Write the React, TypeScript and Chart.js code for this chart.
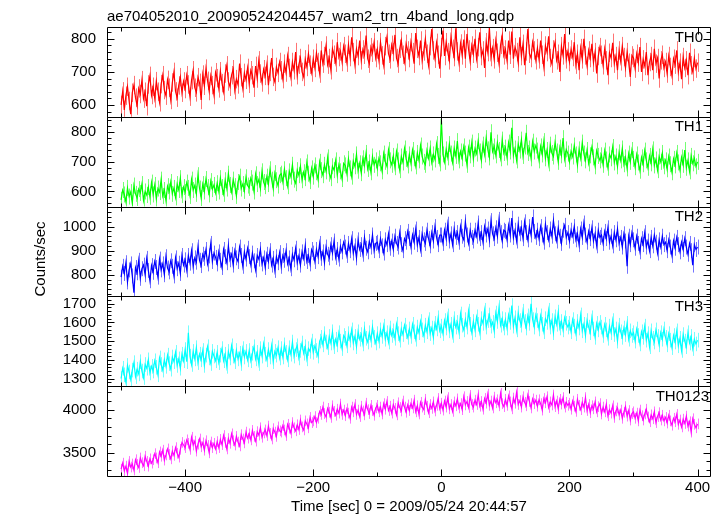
import React, { useEffect, useRef } from "react";
import { Chart, registerables } from "chart.js";

Chart.register(...registerables);

// ---------- data ----------
const TIME = [
  -500, -497.5, -495, -492.5, -490, -487.5, -485, -482.5, -480, -477.5, -475, -472.5, -470, -467.5, -465, -462.5, -460, -457.5, -455, -452.5,
  -450, -447.5, -445, -442.5, -440, -437.5, -435, -432.5, -430, -427.5, -425, -422.5, -420, -417.5, -415, -412.5, -410, -407.5, -405, -402.5,
  -400, -397.5, -395, -392.5, -390, -387.5, -385, -382.5, -380, -377.5, -375, -372.5, -370, -367.5, -365, -362.5, -360, -357.5, -355, -352.5,
  -350, -347.5, -345, -342.5, -340, -337.5, -335, -332.5, -330, -327.5, -325, -322.5, -320, -317.5, -315, -312.5, -310, -307.5, -305, -302.5,
  -300, -297.5, -295, -292.5, -290, -287.5, -285, -282.5, -280, -277.5, -275, -272.5, -270, -267.5, -265, -262.5, -260, -257.5, -255, -252.5,
  -250, -247.5, -245, -242.5, -240, -237.5, -235, -232.5, -230, -227.5, -225, -222.5, -220, -217.5, -215, -212.5, -210, -207.5, -205, -202.5,
  -200, -197.5, -195, -192.5, -190, -187.5, -185, -182.5, -180, -177.5, -175, -172.5, -170, -167.5, -165, -162.5, -160, -157.5, -155, -152.5,
  -150, -147.5, -145, -142.5, -140, -137.5, -135, -132.5, -130, -127.5, -125, -122.5, -120, -117.5, -115, -112.5, -110, -107.5, -105, -102.5,
  -100, -97.5, -95, -92.5, -90, -87.5, -85, -82.5, -80, -77.5, -75, -72.5, -70, -67.5, -65, -62.5, -60, -57.5, -55, -52.5,
  -50, -47.5, -45, -42.5, -40, -37.5, -35, -32.5, -30, -27.5, -25, -22.5, -20, -17.5, -15, -12.5, -10, -7.5, -5, -2.5,
  0, 2.5, 5, 7.5, 10, 12.5, 15, 17.5, 20, 22.5, 25, 27.5, 30, 32.5, 35, 37.5, 40, 42.5, 45, 47.5,
  50, 52.5, 55, 57.5, 60, 62.5, 65, 67.5, 70, 72.5, 75, 77.5, 80, 82.5, 85, 87.5, 90, 92.5, 95, 97.5,
  100, 102.5, 105, 107.5, 110, 112.5, 115, 117.5, 120, 122.5, 125, 127.5, 130, 132.5, 135, 137.5, 140, 142.5, 145, 147.5,
  150, 152.5, 155, 157.5, 160, 162.5, 165, 167.5, 170, 172.5, 175, 177.5, 180, 182.5, 185, 187.5, 190, 192.5, 195, 197.5,
  200, 202.5, 205, 207.5, 210, 212.5, 215, 217.5, 220, 222.5, 225, 227.5, 230, 232.5, 235, 237.5, 240, 242.5, 245, 247.5,
  250, 252.5, 255, 257.5, 260, 262.5, 265, 267.5, 270, 272.5, 275, 277.5, 280, 282.5, 285, 287.5, 290, 292.5, 295, 297.5,
  300, 302.5, 305, 307.5, 310, 312.5, 315, 317.5, 320, 322.5, 325, 327.5, 330, 332.5, 335, 337.5, 340, 342.5, 345, 347.5,
  350, 352.5, 355, 357.5, 360, 362.5, 365, 367.5, 370, 372.5, 375, 377.5, 380, 382.5, 385, 387.5, 390, 392.5, 395, 397.5,
  400,
];

const TH0 = [
  600, 641, 585, 628, 655, 612, 572, 637, 660, 622, 598, 650, 633, 675, 619, 640, 596, 662, 688, 630,
  655, 620, 672, 640, 608, 663, 690, 645, 628, 676, 652, 615, 668, 700, 641, 622, 659, 684, 637, 671,
  648, 690, 662, 625, 675, 705, 652, 638, 684, 667, 615, 692, 658, 710, 673, 642, 688, 660, 630, 699,
  681, 650, 702, 666, 640, 695, 720, 671, 655, 690, 708, 645, 678, 662, 725, 684, 650, 697, 676, 712,
  664, 705, 690, 652, 718, 680, 735, 695, 668, 708, 688, 722, 660, 700, 742, 685, 670, 715, 697, 730,
  705, 678, 725, 698, 748, 712, 684, 730, 705, 760, 690, 722, 742, 700, 685, 738, 715, 755, 722, 698,
  740, 712, 758, 730, 695, 765, 725, 748, 780, 722, 742, 705, 770, 752, 728, 790, 745, 762, 730, 778,
  755, 728, 782, 745, 805, 760, 722, 770, 748, 795, 735, 768, 752, 810, 740, 725, 775, 758, 790, 742,
  768, 735, 790, 750, 720, 778, 805, 755, 738, 782, 760, 812, 742, 725, 770, 795, 752, 730, 785, 765,
  742, 790, 760, 725, 818, 770, 748, 795, 735, 762, 800, 755, 720, 778, 830, 765, 740, 788, 752, 710,
  775, 825, 748, 790, 760, 735, 805, 770, 745, 832, 762, 728, 786, 750, 798, 740, 815, 768, 732, 780,
  755, 800, 740, 775, 820, 748, 765, 712, 790, 760, 834, 745, 772, 738, 795, 758, 725, 782, 810, 750,
  768, 735, 795, 752, 822, 740, 775, 760, 728, 805, 748, 785, 720, 762, 830, 755, 742, 790, 765, 735,
  772, 738, 795, 752, 715, 780, 760, 808, 742, 725, 768, 790, 735, 755, 700, 778, 750, 815, 738, 762,
  730, 768, 745, 790, 722, 755, 705, 772, 738, 800, 750, 718, 765, 742, 785, 728, 760, 695, 748, 775,
  752, 720, 770, 735, 690, 758, 742, 788, 725, 748, 705, 765, 732, 778, 745, 712, 760, 728, 685, 750,
  742, 710, 755, 728, 775, 700, 738, 718, 760, 690, 730, 748, 705, 770, 725, 742, 680, 735, 752, 712,
  730, 695, 748, 715, 688, 740, 722, 765, 700, 728, 678, 745, 712, 735, 690, 758, 720, 700, 742, 710,
  728,
];

const TH1 = [
  572, 605, 590, 565, 612, 583, 598, 560, 620, 592, 578, 608, 595, 625, 570, 600, 588, 615, 582, 630,
  590, 622, 575, 610, 598, 640, 585, 605, 570, 618, 600, 632, 592, 612, 580, 625, 605, 645, 588, 615,
  598, 630, 612, 585, 640, 605, 620, 592, 655, 610, 578, 625, 600, 642, 615, 590, 635, 608, 622, 595,
  628, 600, 645, 615, 592, 638, 610, 660, 622, 598, 640, 618, 585, 632, 650, 610, 625, 602, 648, 620,
  612, 645, 630, 600, 658, 625, 640, 610, 668, 632, 618, 650, 625, 675, 640, 610, 662, 638, 620, 655,
  660, 632, 675, 645, 618, 668, 650, 690, 640, 628, 672, 655, 685, 638, 665, 645, 698, 660, 635, 678,
  650, 688, 665, 640, 700, 672, 655, 690, 668, 715, 660, 645, 685, 672, 705, 655, 690, 668, 642, 695,
  688, 660, 710, 678, 650, 702, 685, 725, 670, 695, 662, 712, 688, 730, 676, 698, 665, 718, 690, 705,
  678, 712, 695, 668, 728, 700, 685, 740, 705, 690, 720, 682, 735, 705, 672, 718, 698, 745, 710, 688,
  725, 695, 740, 712, 685, 730, 705, 755, 718, 700, 690, 738, 712, 745, 698, 725, 708, 760, 720, 695,
  845, 725, 700, 742, 715, 760, 728, 698, 745, 720, 770, 705, 735, 712, 752, 728, 690, 748, 722, 765,
  710, 745, 728, 770, 735, 705, 758, 725, 780, 742, 715, 800, 735, 752, 722, 765, 740, 712, 775, 730,
  748, 715, 765, 735, 815, 722, 745, 705, 760, 738, 775, 720, 752, 798, 730, 745, 712, 768, 735, 755,
  738, 705, 752, 725, 770, 712, 740, 695, 758, 730, 718, 765, 735, 700, 748, 722, 780, 710, 742, 728,
  700, 735, 718, 755, 725, 690, 742, 712, 765, 728, 705, 740, 695, 722, 750, 715, 685, 738, 720, 705,
  722, 690, 738, 708, 680, 725, 712, 750, 698, 718, 685, 732, 705, 745, 692, 715, 678, 728, 700, 740,
  710, 682, 725, 698, 670, 715, 692, 738, 705, 680, 720, 695, 742, 688, 708, 672, 718, 700, 730, 685,
  705, 675, 718, 692, 665, 710, 688, 730, 698, 672, 715, 690, 740, 680, 705, 668, 720, 695, 712, 685,
  700,
];

const TH2 = [
  790, 835, 805, 850, 770, 820, 845, 795, 725, 830, 808, 860, 785, 825, 840, 800, 868, 818, 775, 838,
  810, 855, 830, 790, 865, 820, 845, 800, 875, 828, 812, 858, 835, 795, 870, 825, 848, 805, 880, 840,
  862, 820, 880, 848, 900, 835, 870, 852, 915, 860, 838, 885, 868, 905, 845, 878, 930, 855, 890, 872,
  845, 895, 860, 830, 905, 875, 850, 920, 862, 885, 840, 900, 870, 855, 915, 880, 835, 895, 865, 910,
  875, 840, 890, 858, 820, 880, 865, 905, 845, 870, 830, 885, 855, 900, 840, 868, 818, 875, 850, 892,
  835, 880, 860, 900, 845, 870, 825, 885, 862, 910, 850, 878, 840, 895, 868, 920, 855, 880, 845, 905,
  890, 855, 905, 875, 930, 868, 895, 850, 915, 885, 870, 925, 890, 940, 872, 905, 865, 918, 895, 935,
  915, 880, 930, 900, 950, 890, 920, 870, 945, 905, 925, 885, 955, 910, 895, 938, 915, 965, 900, 930,
  935, 900, 950, 920, 890, 945, 925, 970, 910, 940, 905, 960, 930, 915, 975, 925, 900, 950, 935, 980,
  950, 915, 965, 935, 990, 925, 955, 905, 970, 945, 930, 985, 950, 920, 975, 940, 1000, 955, 925, 965,
  965, 930, 985, 950, 1010, 940, 970, 925, 990, 955, 975, 935, 1000, 960, 945, 1020, 965, 930, 985, 955,
  940, 985, 960, 1015, 950, 975, 935, 1000, 965, 990, 945, 1025, 970, 950, 995, 960, 1030, 975, 940, 985,
  980, 945, 1005, 965, 1035, 955, 985, 940, 1010, 970, 995, 950, 1020, 975, 945, 1000, 965, 1040, 980, 955,
  985, 950, 1000, 965, 935, 1010, 975, 945, 990, 960, 1025, 970, 940, 995, 960, 930, 985, 1005, 955, 975,
  940, 985, 960, 1000, 945, 970, 925, 990, 955, 1015, 965, 935, 980, 950, 995, 940, 970, 920, 985, 955,
  965, 930, 980, 950, 995, 935, 960, 920, 975, 945, 990, 930, 955, 915, 970, 940, 835, 960, 925, 975,
  945, 910, 960, 930, 895, 950, 925, 975, 915, 940, 900, 955, 920, 965, 935, 890, 945, 915, 960, 925,
  935, 900, 945, 915, 880, 940, 910, 955, 925, 895, 935, 905, 950, 915, 885, 930, 900, 840, 925, 905,
  915,
];

const TH3 = [
  1300, 1355, 1320, 1280, 1370, 1335, 1295, 1345, 1385, 1310, 1350, 1325, 1390, 1340, 1305, 1375, 1355, 1400, 1330, 1365,
  1340, 1395, 1360, 1320, 1410, 1375, 1345, 1400, 1365, 1425, 1380, 1350, 1415, 1390, 1440, 1370, 1405, 1355, 1430, 1395,
  1455, 1390, 1545, 1420, 1375, 1445, 1405, 1465, 1385, 1430, 1400, 1450, 1370, 1425, 1470, 1410, 1380, 1445, 1420, 1395,
  1440, 1385, 1425, 1460, 1395, 1430, 1365, 1445, 1410, 1475, 1420, 1390, 1450, 1405, 1435, 1380, 1460, 1415, 1445, 1400,
  1450, 1395, 1435, 1470, 1405, 1440, 1380, 1460, 1420, 1485, 1430, 1400, 1455, 1415, 1475, 1390, 1445, 1425, 1465, 1410,
  1460, 1415, 1480, 1440, 1400, 1465, 1430, 1495, 1420, 1455, 1475, 1410, 1450, 1490, 1435, 1470, 1405, 1460, 1445, 1500,
  1440, 1475, 1450, 1420, 1500, 1520, 1480, 1540, 1495, 1465, 1525, 1490, 1550, 1470, 1510, 1480, 1545, 1500, 1460, 1530,
  1515, 1475, 1540, 1505, 1560, 1490, 1525, 1470, 1550, 1510, 1535, 1485, 1565, 1515, 1495, 1545, 1505, 1575, 1520, 1490,
  1540, 1500, 1560, 1525, 1580, 1510, 1545, 1495, 1570, 1530, 1555, 1515, 1590, 1540, 1505, 1565, 1535, 1585, 1550, 1520,
  1565, 1525, 1590, 1550, 1510, 1575, 1545, 1605, 1560, 1530, 1585, 1550, 1615, 1540, 1570, 1520, 1595, 1565, 1625, 1555,
  1580, 1540, 1610, 1570, 1635, 1555, 1590, 1530, 1620, 1575, 1600, 1550, 1645, 1585, 1560, 1615, 1575, 1660, 1590, 1545,
  1605, 1560, 1630, 1590, 1545, 1620, 1595, 1665, 1575, 1610, 1640, 1580, 1600, 1555, 1650, 1605, 1680, 1585, 1620, 1570,
  1615, 1570, 1640, 1600, 1690, 1580, 1625, 1560, 1650, 1610, 1585, 1660, 1605, 1570, 1635, 1595, 1700, 1615, 1575, 1640,
  1610, 1565, 1635, 1590, 1550, 1620, 1600, 1665, 1575, 1610, 1545, 1630, 1590, 1655, 1570, 1605, 1560, 1625, 1595, 1575,
  1595, 1550, 1615, 1580, 1540, 1605, 1570, 1640, 1555, 1590, 1530, 1610, 1575, 1545, 1625, 1565, 1520, 1595, 1560, 1600,
  1575, 1530, 1590, 1560, 1515, 1580, 1545, 1610, 1535, 1565, 1500, 1585, 1550, 1520, 1570, 1535, 1595, 1510, 1555, 1530,
  1545, 1500, 1565, 1530, 1485, 1550, 1520, 1580, 1505, 1540, 1470, 1555, 1515, 1495, 1560, 1525, 1480, 1545, 1510, 1565,
  1520, 1480, 1540, 1505, 1465, 1530, 1495, 1555, 1475, 1515, 1450, 1535, 1500, 1470, 1545, 1490, 1525, 1460, 1510, 1485,
  1505,
];

const TH0123 = [
  3310, 3380, 3290, 3345, 3260, 3400, 3335, 3370, 3300, 3420, 3365, 3330, 3440, 3385, 3350, 3460, 3400, 3345, 3430, 3380,
  3420, 3490, 3440, 3385, 3510, 3460, 3530, 3415, 3475, 3545, 3480, 3430, 3520, 3470, 3560, 3495, 3450, 3540, 3620, 3590,
  3560, 3650, 3610, 3540, 3680, 3590, 3635, 3520, 3600, 3660, 3570, 3615, 3530, 3640, 3585, 3500, 3625, 3560, 3610, 3545,
  3630, 3560, 3655, 3595, 3700, 3620, 3545, 3665, 3610, 3720, 3640, 3590, 3690, 3625, 3580, 3710, 3660, 3615, 3740, 3670,
  3720, 3650, 3760, 3690, 3635, 3745, 3705, 3790, 3680, 3730, 3765, 3700, 3810, 3725, 3660, 3780, 3740, 3690, 3800, 3755,
  3740, 3815, 3765, 3700, 3830, 3785, 3730, 3850, 3790, 3755, 3825, 3770, 3880, 3800, 3765, 3870, 3835, 3790, 3910, 3850,
  3870, 3920, 3850, 3900, 3980, 3945, 4030, 3955, 3915, 4015, 3970, 3910, 4045, 3980, 3935, 4005, 3960, 4065, 3945, 3995,
  3930, 4010, 3960, 3900, 4030, 3975, 4060, 3945, 3995, 3920, 4040, 3985, 3940, 4075, 4000, 3955, 4050, 3990, 3935, 4020,
  4050, 3975, 4030, 3950, 4070, 4005, 4095, 3990, 4040, 3960, 4060, 4015, 3940, 4080, 4025, 3985, 4100, 4030, 3970, 4055,
  3990, 4070, 4020, 4110, 3975, 4045, 3950, 4085, 4030, 4000, 4120, 4040, 3965, 4060, 4015, 4090, 3985, 4050, 4130, 4010,
  4075, 3995, 4100, 4030, 4140, 4010, 4060, 3980, 4090, 4045, 4125, 4020, 4070, 4000, 4150, 4055, 4095, 4025, 4165, 4060,
  4030, 4110, 4060, 4170, 4040, 4095, 4005, 4130, 4075, 4180, 4050, 4100, 4020, 4145, 4080, 4115, 4045, 4190, 4070, 4035,
  4120, 4050, 4160, 4090, 4010, 4135, 4075, 4200, 4060, 4105, 4030, 4150, 4085, 4045, 4170, 4095, 4020, 4125, 4070, 4110,
  4040, 4115, 4070, 3995, 4130, 4080, 4150, 4025, 4090, 4055, 4170, 4035, 4100, 4010, 4120, 4065, 4140, 4030, 4085, 4050,
  4075, 4005, 4100, 4040, 3980, 4120, 4050, 4000, 4085, 4030, 4140, 3990, 4060, 3965, 4045, 4010, 4090, 3975, 4035, 4070,
  3950, 4030, 3975, 4060, 3930, 4000, 3960, 4045, 3910, 3985, 4020, 3940, 3995, 3900, 3970, 4035, 3925, 3990, 3880, 3955,
  3975, 3900, 3960, 3870, 3995, 3930, 3880, 3950, 4005, 3915, 3860, 3940, 3895, 3975, 3850, 3920, 3965, 3880, 3935, 3870,
  3910, 3845, 3935, 3870, 3820, 3900, 3860, 3945, 3830, 3880, 3800, 3890, 3840, 3925, 3810, 3860, 3740, 3895, 3830, 3790,
  3835,
];

const PANEL_NAMES = ["TH0", "TH1", "TH2", "TH3", "TH0123"];
const SERIES = [TH0, TH1, TH2, TH3, TH0123];
const ERRORS = [28, 27, 31, 39, 62];
const Y_MIN = [564, 549, 710, 1259, 3231];
const Y_MAX = [836, 852, 1083, 1739, 4272];
const Y_TICKS = [
  [600, 700, 800],
  [600, 700, 800],
  [800, 900, 1000],
  [1300, 1400, 1500, 1600, 1700],
  [3500, 4000],
];
const Y_MINOR_STEP = [20, 20, 20, 20, 100];
const X_MIN = -522;
const X_MAX = 421;
const X_TICKS = [-400, -200, 0, 200, 400];
const X_MINOR_STEP = 100;

const TITLE = "ae704052010_20090524204457_wam2_trn_4band_long.qdp";
const X_TITLE = "Time [sec] 0 = 2009/05/24 20:44:57";
const Y_TITLE = "Counts/sec";

// ---------- style ----------
const LINE_COLORS = ["#ff0000", "#00ff00", "#0000ff", "#00ffff", "#ff00ff"];
const ERR_COLORS = [
  "rgba(255,0,0,0.55)",
  "rgba(0,255,0,0.55)",
  "rgba(0,0,255,0.55)",
  "rgba(0,255,255,0.55)",
  "rgba(255,0,255,0.55)",
];
const LABEL_RIGHT = [703, 703, 703, 703, 709];
const FONT = "'Liberation Sans', Arial, Helvetica, sans-serif";

const fmt = (v: number) => (v < 0 ? "\u2212" + String(-v) : String(v));

const clipPanel = (chart: any, i: number) => {
  const ctx = chart.ctx;
  const ys = chart.scales["y" + i];
  const area = chart.chartArea;
  ctx.beginPath();
  ctx.rect(area.left, ys.top, area.right - area.left, ys.bottom - ys.top);
  ctx.clip();
};

const qdpPlugin = {
  id: "qdpFrame",
  beforeDatasetsDraw(chart: any) {
    const ctx = chart.ctx;
    const xs = chart.scales.x;
    SERIES.forEach((vals, i) => {
      const ys = chart.scales["y" + i];
      ctx.save();
      clipPanel(chart, i);
      ctx.strokeStyle = ERR_COLORS[i];
      ctx.lineWidth = 1;
      ctx.beginPath();
      vals.forEach((v, k) => {
        const px = Math.round(xs.getPixelForValue(TIME[k])) + 0.5;
        ctx.moveTo(px, ys.getPixelForValue(v - ERRORS[i]));
        ctx.lineTo(px, ys.getPixelForValue(v + ERRORS[i]));
      });
      ctx.stroke();
      ctx.restore();
    });
  },
  beforeDatasetDraw(chart: any, args: any) {
    chart.ctx.save();
    clipPanel(chart, args.index);
  },
  afterDatasetDraw(chart: any) {
    chart.ctx.restore();
  },
  afterDatasetsDraw(chart: any) {
    const ctx = chart.ctx;
    const xs = chart.scales.x;
    const area = chart.chartArea;
    const L = Math.round(area.left) + 0.5;
    const R = Math.round(area.right) - 0.5;
    ctx.save();
    ctx.strokeStyle = "#000";
    ctx.lineWidth = 1;
    SERIES.forEach((_, i) => {
      const ys = chart.scales["y" + i];
      const T = Math.round(ys.top) + 0.5;
      const B = Math.round(ys.bottom) + 0.5;
      ctx.beginPath();
      ctx.rect(L, T, R - L, B - T);
      const step = Y_MINOR_STEP[i];
      for (let v = Math.ceil(Y_MIN[i] / step) * step; v <= Y_MAX[i]; v += step) {
        const py = Math.round(ys.getPixelForValue(v)) + 0.5;
        const len = Y_TICKS[i].includes(v) ? 7 : 4;
        ctx.moveTo(L, py);
        ctx.lineTo(L + len, py);
        ctx.moveTo(R, py);
        ctx.lineTo(R - len, py);
      }
      for (let v = Math.ceil(X_MIN / X_MINOR_STEP) * X_MINOR_STEP; v <= X_MAX; v += X_MINOR_STEP) {
        const px = Math.round(xs.getPixelForValue(v)) + 0.5;
        const len = X_TICKS.includes(v) ? 7 : 4;
        ctx.moveTo(px, T);
        ctx.lineTo(px, T + len);
        ctx.moveTo(px, B);
        ctx.lineTo(px, B - len);
      }
      ctx.stroke();
      ctx.fillStyle = "#000";
      ctx.font = "15px " + FONT;
      ctx.textAlign = "right";
      ctx.textBaseline = "middle";
      ctx.fillText(PANEL_NAMES[i], LABEL_RIGHT[i], ys.top + 10.5);
    });
    ctx.textAlign = "left";
    ctx.textBaseline = "alphabetic";
    ctx.fillText(TITLE, area.left, 20.5);
    ctx.translate(41, 259);
    ctx.rotate(-Math.PI / 2);
    ctx.textAlign = "center";
    ctx.textBaseline = "middle";
    ctx.fillText(Y_TITLE, 0, 0);
    ctx.restore();
  },
};

export default function App() {
  const canvasRef = useRef<HTMLCanvasElement | null>(null);

  useEffect(() => {
    const canvas = canvasRef.current;
    if (!canvas) return;

    const scales: any = {
      x: {
        type: "linear",
        position: "bottom",
        min: X_MIN,
        max: X_MAX,
        afterBuildTicks: (s: any) => {
          s.ticks = X_TICKS.map((v) => ({ value: v }));
        },
        afterFit: (s: any) => {
          s.height = 40;
        },
        ticks: {
          autoSkip: false,
          maxRotation: 0,
          padding: 3,
          color: "#000",
          font: { family: FONT, size: 15 },
          callback: (v: any) => fmt(Number(v)),
        },
        grid: { display: false, drawTicks: false },
        border: { display: false },
        title: {
          display: true,
          text: X_TITLE,
          color: "#000",
          font: { family: FONT, size: 15 },
          padding: { top: 0, bottom: 0 },
        },
      },
    };
    // stacked scales are placed bottom-up in insertion order, so add the last panel first
    for (let i = PANEL_NAMES.length - 1; i >= 0; i--) {
      scales["y" + i] = {
        type: "linear",
        position: "left",
        stack: "panels",
        stackWeight: 1,
        min: Y_MIN[i],
        max: Y_MAX[i],
        afterBuildTicks: (s: any) => {
          s.ticks = Y_TICKS[i].map((v) => ({ value: v }));
        },
        afterFit: (s: any) => {
          s.width = 107;
        },
        ticks: {
          autoSkip: false,
          padding: 11,
          color: "#000",
          font: { family: FONT, size: 15 },
          callback: (v: any) => fmt(Number(v)),
        },
        grid: { display: false, drawTicks: false },
        border: { display: false },
      };
    }

    const datasets = SERIES.map((vals, i) => ({
      label: PANEL_NAMES[i],
      data: vals.map((v, k) => ({ x: TIME[k], y: v })),
      yAxisID: "y" + i,
      xAxisID: "x",
      borderColor: LINE_COLORS[i],
      backgroundColor: LINE_COLORS[i],
      borderWidth: 1.2,
      pointRadius: 0,
      tension: 0,
      fill: false,
    }));

    const chart = new Chart(canvas, {
      type: "line",
      data: { datasets },
      options: {
        responsive: false,
        animation: false,
        devicePixelRatio: 1,
        events: [],
        layout: { padding: { left: 0, top: 27, right: 13, bottom: 0 } },
        plugins: {
          legend: { display: false },
          tooltip: { enabled: false },
          title: { display: false },
        },
        scales,
      },
      plugins: [qdpPlugin],
    } as any);

    return () => chart.destroy();
  }, []);

  return (
    <div style={{ position: "absolute", left: 0, top: 0, width: 724, height: 516, background: "#fff" }}>
      <canvas ref={canvasRef} width={724} height={516} style={{ display: "block" }} />
    </div>
  );
}
